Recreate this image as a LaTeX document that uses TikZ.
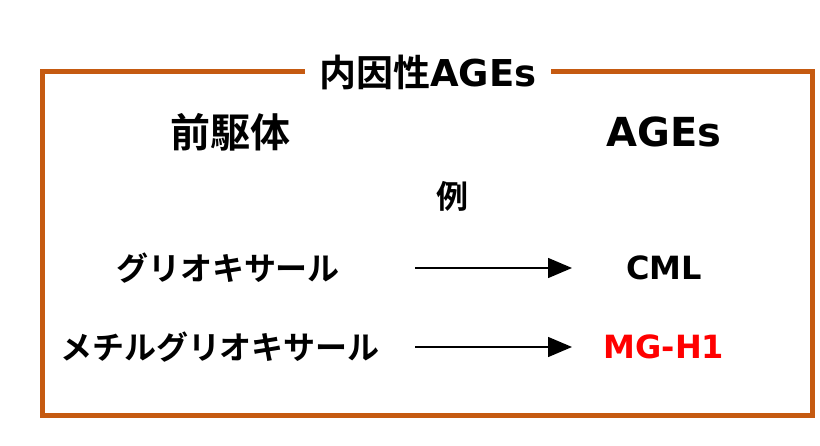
\documentclass[tikz,border=0pt]{standalone}
\usepackage{fontspec}
\setmainfont{Noto Sans CJK JP}[BoldFont={* Bold}]
\newfontfamily\latinf{DejaVu Sans}[BoldFont={* Bold}]
\usetikzlibrary{arrows.meta}
\definecolor{frame}{RGB}{197,90,17}
\begin{document}
\begin{tikzpicture}[x=1pt,y=-1pt,
 lbl/.style={font=\bfseries\fontsize{32}{36}\selectfont, inner sep=0pt},
 big/.style={font=\bfseries\fontsize{40}{44}\selectfont, inner sep=0pt},
 arr/.style={draw=black, line width=1.5pt, -{Triangle[length=24pt,width=20pt]}}]
\useasboundingbox (0,0) rectangle (820,446);
\draw[frame, line width=5pt] (42,72) rectangle (812,416);
\node[lbl, font=\bfseries\fontsize{37}{40}\selectfont, fill=white, inner xsep=14pt, inner ysep=4pt] (title) at (428,72) {内因性{\latinf AGEs}};
\node[big] (pre) at (230,132) {前駆体};
\node[big] (ages) at (664,132) {\latinf AGEs};
\node[lbl] (ex) at (452,196) {例};
\node[lbl] (gly) at (228,268) {グリオキサール};
\node[lbl] (cml) at (664,268) {\latinf CML};
\node[lbl] (mgly) at (220,347) {メチルグリオキサール};
\node[lbl, text=red] (mgh) at (664,347) {\latinf MG-H1};
\coordinate (a1) at (415,268); \coordinate (b1) at (572,268);
\coordinate (a2) at (415,347); \coordinate (b2) at (572,347);
\draw[arr] (a1) -- (b1);
\draw[arr] (a2) -- (b2);
\end{tikzpicture}
\end{document}
